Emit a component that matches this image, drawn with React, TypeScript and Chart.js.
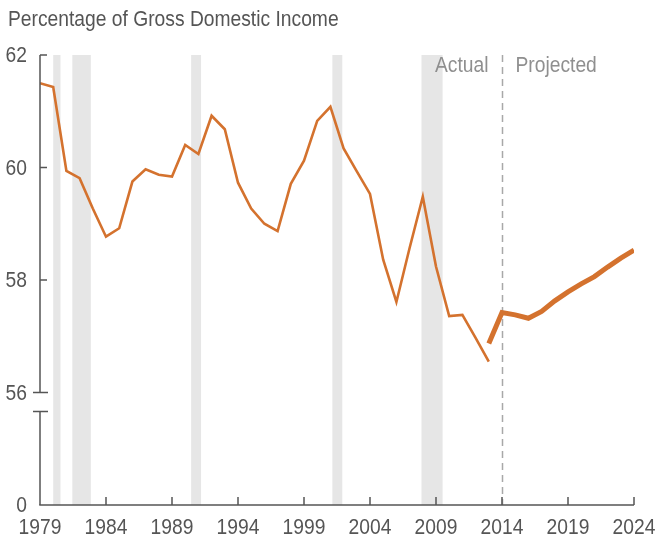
import React, { useEffect, useRef } from "react";
import { Chart, registerables } from "chart.js";

Chart.register(...registerables);

const FONT = "'Liberation Sans', Arial, sans-serif";
const FONT_SIZE = 22;
const TEXT_SCALE_X = 0.875; // condensed look
const ORANGE = "#D4722E";
const AXIS = "#555555";

const TITLE = "Percentage of Gross Domestic Income";
const ACTUAL_LABEL = "Actual";
const PROJECTED_LABEL = "Projected";

const actualYears = [
  1979, 1980, 1981, 1982, 1983, 1984, 1985, 1986, 1987, 1988, 1989, 1990,
  1991, 1992, 1993, 1994, 1995, 1996, 1997, 1998, 1999, 2000, 2001, 2002,
  2003, 2004, 2005, 2006, 2007, 2008, 2009, 2010, 2011, 2012, 2013,
];
const actualValues = [
  61.5, 61.43, 59.94, 59.81, 59.27, 58.77, 58.92, 59.75, 59.97, 59.87, 59.84,
  60.4, 60.24, 60.92, 60.68, 59.73, 59.27, 59.0, 58.87, 59.71, 60.12, 60.83,
  61.08, 60.34, 59.93, 59.53, 58.36, 57.61, 58.57, 59.48, 58.24, 57.36, 57.38,
  56.97, 56.55,
];

const projectedYears = [
  2013, 2014, 2015, 2016, 2017, 2018, 2019, 2020, 2021, 2022, 2023, 2024,
];
const projectedValues = [
  56.87, 57.42, 57.38, 57.32, 57.44, 57.63, 57.79, 57.93, 58.06, 58.23, 58.39,
  58.53,
];

const recessionStarts = [1980.0, 1981.45, 1990.45, 2001.15, 2007.9];
const recessionEnds = [1980.55, 1982.85, 1991.2, 2001.9, 2009.5];

const projectionStartYear = 2014;

const xTickValues = [1979, 1984, 1989, 1994, 1999, 2004, 2009, 2014, 2019, 2024];
const xTickLabels = ["1979", "1984", "1989", "1994", "1999", "2004", "2009", "2014", "2019", "2024"];
const yTickValues = [54, 56, 58, 60, 62];
const yTickLabels = ["0", "56", "58", "60", "62"];
const yBreakValue = 56; // axis break just below this tick

function drawText(ctx: CanvasRenderingContext2D, text: string, x: number, y: number, align: CanvasTextAlign, baseline: CanvasTextBaseline) {
  ctx.save();
  ctx.translate(x, y);
  ctx.scale(TEXT_SCALE_X, 1);
  ctx.textAlign = align;
  ctx.textBaseline = baseline;
  ctx.fillText(text, 0, 0);
  ctx.restore();
}

const decorPlugin = {
  id: "decor",
  beforeDatasetsDraw(chart: any) {
    const { ctx, chartArea, scales } = chart;
    const xs = scales.x;
    ctx.save();
    ctx.fillStyle = "#E6E6E6";
    for (let i = 0; i < recessionStarts.length; i++) {
      const x0 = xs.getPixelForValue(recessionStarts[i]);
      const x1 = xs.getPixelForValue(recessionEnds[i]);
      ctx.fillRect(x0, chartArea.top, x1 - x0, chartArea.bottom - chartArea.top);
    }
    // projection divider
    const xp = Math.round(xs.getPixelForValue(projectionStartYear)) + 0.5;
    ctx.strokeStyle = "#A8A8A8";
    ctx.lineWidth = 1.5;
    ctx.setLineDash([7, 5]);
    ctx.beginPath();
    ctx.moveTo(xp, chartArea.top);
    ctx.lineTo(xp, chartArea.bottom);
    ctx.stroke();
    ctx.setLineDash([]);

    // labels
    ctx.fillStyle = "#8F8F8F";
    ctx.font = `${FONT_SIZE}px ${FONT}`;
    drawText(ctx, ACTUAL_LABEL, xp - 14, chartArea.top + 17, "right", "alphabetic");
    drawText(ctx, PROJECTED_LABEL, xp + 13, chartArea.top + 17, "left", "alphabetic");
    ctx.restore();
  },
  afterDraw(chart: any) {
    const { ctx, chartArea, scales } = chart;
    const xs = scales.x;
    const ys = scales.y;
    ctx.save();
    ctx.strokeStyle = AXIS;
    ctx.lineWidth = 1.5;
    const ax = chartArea.left;
    const yBreakTop = ys.getPixelForValue(yBreakValue);
    const yBreakBottom = yBreakTop + 19;
    // y axis with break
    ctx.beginPath();
    ctx.moveTo(ax, ys.getPixelForValue(62));
    ctx.lineTo(ax, yBreakTop);
    ctx.moveTo(ax, yBreakBottom);
    ctx.lineTo(ax, chartArea.bottom);
    ctx.stroke();
    // y ticks
    ctx.beginPath();
    for (const v of [58, 60, 62]) {
      const y = ys.getPixelForValue(v);
      ctx.moveTo(ax, y);
      ctx.lineTo(ax + 7, y);
    }
    ctx.moveTo(ax - 7, yBreakTop);
    ctx.lineTo(ax + 8, yBreakTop);
    ctx.moveTo(ax - 7, yBreakBottom);
    ctx.lineTo(ax + 8, yBreakBottom);
    ctx.stroke();
    // x axis
    const by = chartArea.bottom;
    ctx.beginPath();
    ctx.moveTo(ax - 0.75, by);
    ctx.lineTo(chartArea.right, by);
    for (const v of xTickValues) {
      if (v === xs.min) continue;
      const x = xs.getPixelForValue(v);
      ctx.moveTo(x, by);
      ctx.lineTo(x, by - 8);
    }
    ctx.stroke();

    // tick labels
    ctx.fillStyle = AXIS;
    ctx.font = `${FONT_SIZE}px ${FONT}`;
    yTickValues.forEach((v, i) => {
      drawText(ctx, yTickLabels[i], ax - 13, ys.getPixelForValue(v) + 1, "right", "middle");
    });
    xTickValues.forEach((v, i) => {
      drawText(ctx, xTickLabels[i], xs.getPixelForValue(v), by + 29, "center", "alphabetic");
    });

    // title
    ctx.fillStyle = "#555555";
    drawText(ctx, TITLE, 8, 26, "left", "alphabetic");
    ctx.restore();
  },
};

export default function App() {
  const ref = useRef<HTMLCanvasElement>(null);
  useEffect(() => {
    const chart = new Chart(ref.current as HTMLCanvasElement, {
      type: "line",
      data: {
        datasets: [
          {
            data: actualYears.map((x, i) => ({ x, y: actualValues[i] })),
            borderColor: ORANGE,
            borderWidth: 2.6,
            pointRadius: 0,
            fill: false,
            tension: 0,
          },
          {
            data: projectedYears.map((x, i) => ({ x, y: projectedValues[i] })),
            borderColor: ORANGE,
            borderWidth: 5,
            pointRadius: 0,
            fill: false,
            tension: 0,
          },
        ],
      },
      options: {
        animation: false,
        responsive: false,
        maintainAspectRatio: false,
        layout: { padding: { top: 55, right: 23, left: 0, bottom: 0 } },
        plugins: {
          legend: { display: false },
          tooltip: { enabled: false },
        },
        scales: {
          x: {
            type: "linear",
            min: 1979,
            max: 2024,
            ticks: { display: false, stepSize: 5 },
            grid: { display: false, drawTicks: false },
            border: { display: false },
            afterFit: (s: any) => {
              s.height = 33;
            },
          },
          y: {
            type: "linear",
            min: 54,
            max: 62,
            ticks: { display: false, stepSize: 2 },
            grid: { display: false, drawTicks: false },
            border: { display: false },
            afterFit: (s: any) => {
              s.width = 40;
            },
          },
        },
      } as any,
      plugins: [decorPlugin],
    });
    return () => chart.destroy();
  }, []);
  return (
    <div style={{ position: "absolute", left: 0, top: 0, width: 657, height: 538 }}>
      <canvas ref={ref} width={657} height={538} style={{ display: "block" }} />
    </div>
  );
}
